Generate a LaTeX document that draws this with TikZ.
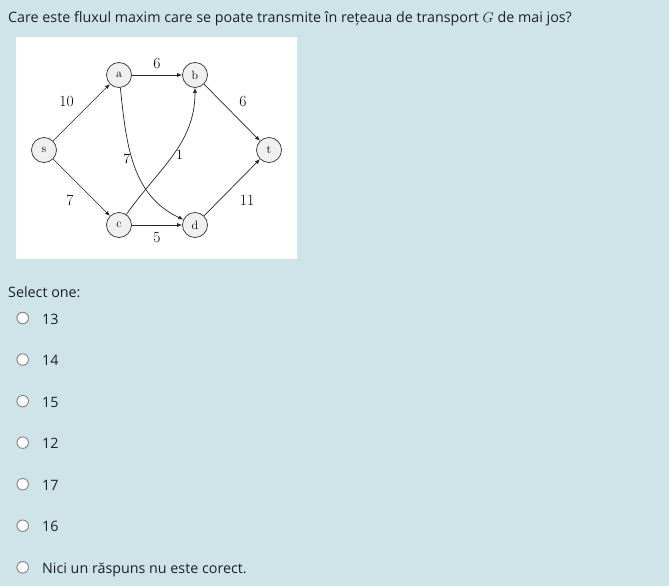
\documentclass[tikz,border=0pt]{standalone}
\usepackage{fontspec}
\setmainfont{Open Sans}
\usepackage{amsmath}
\usetikzlibrary{arrows.meta,positioning}
\definecolor{fundal}{RGB}{206,228,232}
\definecolor{textq}{RGB}{29,33,37}
\definecolor{nodgri}{RGB}{240,240,240}
\definecolor{radiogri}{RGB}{138,138,138}
\newfontfamily\cmserif{Latin Modern Roman}
\tikzset{
  nod/.style={circle,draw=black!80,fill=nodgri,line width=0.7pt,minimum size=25pt,inner sep=0pt,font=\fontsize{12}{14}\cmserif\selectfont},
  muchie/.style={draw=black!85,line width=0.7pt,-{Latex[length=5pt,width=4pt]}},
  capac/.style={font=\fontsize{15.5}{18}\cmserif\selectfont,inner sep=0pt},
  capmic/.style={font=\fontsize{14}{16}\cmserif\selectfont,inner sep=0pt},
  txt/.style={anchor=base west,inner sep=0pt,text=textq,font=\fontsize{14.3}{17}\selectfont},
  radio/.style={circle,draw=radiogri,fill=white,line width=1pt,minimum size=11.5pt,inner sep=0pt}
}
\begin{document}
\begin{tikzpicture}[x=1pt,y=-1pt]
        % fundal si caseta imaginii
        \fill[fundal] (0,0) rectangle (669,586);
        \useasboundingbox (0,0) rectangle (669,586);
        \fill[white] (16,37) rectangle (297,259);

        \node[txt] (intrebare) at (8,23) {Care este fluxul maxim care se poate transmite în rețeaua de transport $G$ de mai jos?};

        % reteaua
        \node[nod] (s) at (44,150) {s};
        \node[nod] (a) at (119,75) {a};
        \node[nod] (b) at (195,75) {b};
        \node[nod] (t) at (269,150) {t};
        \node[nod] (c) at (119,225) {c};
        \node[nod] (d) at (195,225) {d};

        \draw[muchie] (s) -- (a);
        \draw[muchie] (s) -- (c);
        \draw[muchie] (a) -- (b);
        \draw[muchie] (c) -- (d);
        \draw[muchie] (b) -- (t);
        \draw[muchie] (d) -- (t);
        \draw[muchie] (a) to[out=-84,in=155] (d);
        \draw[muchie] (c) to[out=55,in=-90] (b);

        % capacitati
        \node[capac] (csa) at (66.5,101.5) {10};
        \node[capac] (csc) at (70,200) {7};
        \node[capac] (cab) at (157,64) {6};
        \node[capac] (cbt) at (243,101.5) {6};
        \node[capac] (cdt) at (247,200.5) {11};
        \node[capac] (ccd) at (157,238) {5};
        \node[capmic] (cad) at (126.7,159) {7};
        \node[capmic] (ccb) at (179.5,155) {1};

        % variante de raspuns
        \node[txt] (selectie) at (8,297) {Select one:};
        \foreach \val [count=\i from 0] in {13,14,15,12,17,16,Nici un răspuns nu este corect.} {
          \node[radio] (r\i) at (22.7,318+41.55*\i) {};
          \node[txt] (v\i) at (42,324+41.55*\i) {\val};
        }
    \end{tikzpicture}
\end{document}
